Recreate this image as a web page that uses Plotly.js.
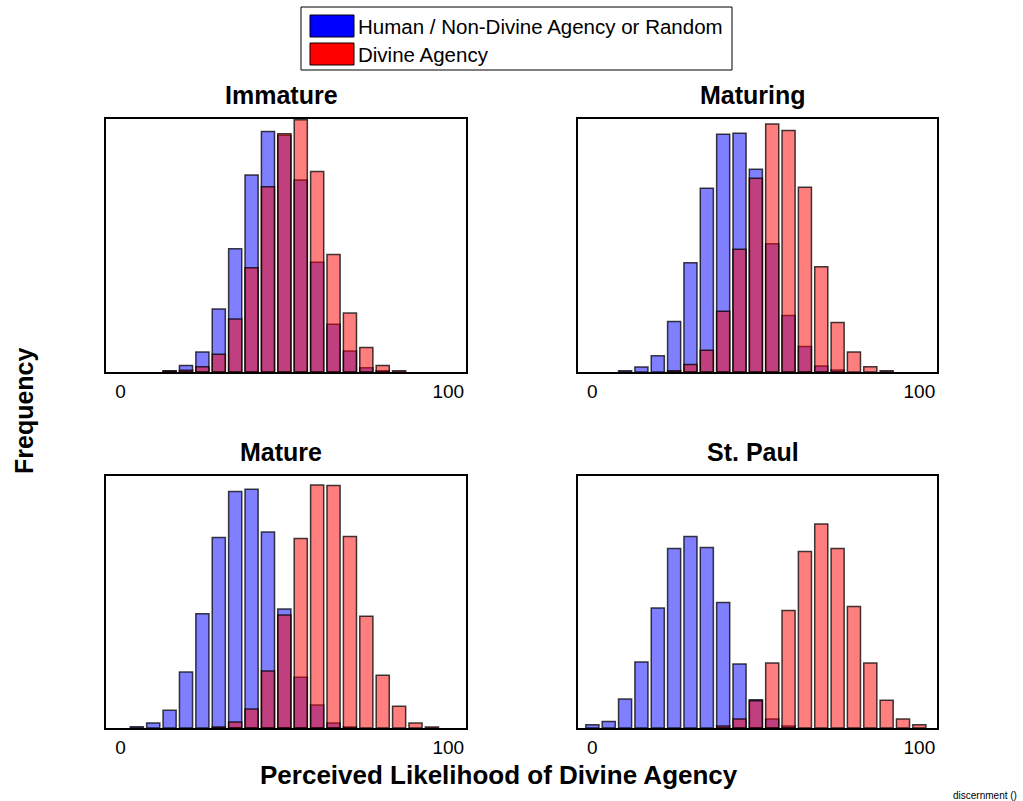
<!DOCTYPE html>
<html>
<head>
<meta charset="utf-8">
<script src="https://cdn.plot.ly/plotly-3.0.1.min.js"></script>
<style>html,body{margin:0;padding:0;background:#fff;}#chart{width:1023px;height:801px;}</style>
</head>
<body>
<div id="chart"></div>
<script>
// Bin centres (Perceived Likelihood of Divine Agency)
const bins = [0,5,10,15,20,25,30,35,40,45,50,55,60,65,70,75,80,85,90,95,100];

// Panel names
const panelTitles = ["Immature", "Maturing", "Mature", "St. Paul"];
const seriesNames = ["Human / Non-Divine Agency or Random", "Divine Agency"];

// Frequencies (relative); null = empty bin
const immatureHuman  = [null,null,null,0.5,2.6,7.9,24.9,48.7,77.9,95.1,93.6,75.9,43.4,18.9,8.3,1.7,0.5,null,null,null,null];
const immatureDivine = [null,null,null,0.3,0.7,2.1,7.0,20.9,41.2,73.2,94.2,99.7,79.2,46.4,23.3,9.7,2.6,0.5,null,null,null];

const maturingHuman  = [null,null,0.5,2.0,6.4,20.0,43.2,72.6,94.0,94.4,80.1,50.7,22.3,10.1,2.4,0.8,null,null,null,null,null];
const maturingDivine = [null,null,null,null,null,0.5,3.0,8.6,24.0,48.5,76.6,98.0,95.5,73.0,41.6,19.6,7.9,2.1,0.5,null,null];

const matureHuman    = [null,0.5,2.0,7.0,22.2,45.3,75.6,93.8,94.7,77.8,47.2,20.1,9.1,2.0,0.4,null,null,null,null,null,null];
const matureDivine   = [null,null,null,null,null,null,0.4,2.4,7.5,22.6,44.8,75.2,96.4,96.2,76.0,44.3,20.9,8.6,2.0,0.4,null];

const paulHuman      = [1.3,2.6,11.5,26.2,47.6,71.2,76.0,71.6,49.8,25.4,11.2,3.6,0.8,null,null,null,null,null,null,null,null];
const paulDivine     = [null,null,null,null,null,null,null,null,0.8,3.6,10.8,25.8,46.6,70.0,81.0,71.2,48.2,25.8,11.0,3.6,1.3];

const tickVals = [0, 100];
const tickText = ["0", "100"];

const panels = [
  {h: immatureHuman, d: immatureDivine},
  {h: maturingHuman, d: maturingDivine},
  {h: matureHuman, d: matureDivine},
  {h: paulHuman, d: paulDivine}
];

const W = 1023, H = 801;
const px = v => v / W;
const py = v => 1 - v / H;

const boxes = [
  {x: [106, 466], y: [119, 372]},
  {x: [578, 937], y: [119, 372]},
  {x: [106, 466], y: [476, 728]},
  {x: [578, 937], y: [476, 728]}
];

const traces = [];
const layout = {
  width: W, height: H,
  margin: {l: 0, r: 0, t: 0, b: 0},
  paper_bgcolor: "#fff", plot_bgcolor: "#fff",
  barmode: "overlay", bargap: 0.2,
  showlegend: false,
  font: {family: "Liberation Sans, Arial, sans-serif", color: "#000"},
  annotations: [], shapes: []
};

panels.forEach((p, i) => {
  const n = i + 1;
  const xa = "x" + (n === 1 ? "" : n), ya = "y" + (n === 1 ? "" : n);
  traces.push({
    type: "bar", x: bins, y: p.h, xaxis: xa, yaxis: ya, name: seriesNames[0],
    marker: {color: "rgba(0,0,255,0.5)", line: {color: "rgba(0,0,0,0.75)", width: 1.5}}
  });
  traces.push({
    type: "bar", x: bins, y: p.d, xaxis: xa, yaxis: ya, name: seriesNames[1],
    marker: {color: "rgba(255,0,0,0.5)", line: {color: "rgba(0,0,0,0.75)", width: 1.5}}
  });
  const b = boxes[i];
  layout["xaxis" + (n === 1 ? "" : n)] = {
    domain: [px(b.x[0]), px(b.x[1])], anchor: ya,
    range: [-4.4, 105.4], showgrid: false, zeroline: false,
    showline: true, mirror: true, linecolor: "#000", linewidth: 2,
    tickvals: tickVals, ticktext: tickText, ticks: "", ticklabelstandoff: 1,
    tickfont: {size: 19, color: "#000"}, fixedrange: true
  };
  layout["yaxis" + (n === 1 ? "" : n)] = {
    domain: [py(b.y[1]), py(b.y[0])], anchor: xa,
    range: [0, 100], showgrid: false, zeroline: false,
    showline: true, mirror: true, linecolor: "#000", linewidth: 2,
    showticklabels: false, ticks: "", fixedrange: true
  };
  const tx = (b.x[0] + b.x[1]) / 2 - 5;
  const ty = b.y[0] - 24;
  layout.annotations.push({
    xref: "paper", yref: "paper", x: px(tx), y: py(ty), xanchor: "center", yanchor: "middle",
    text: "<b>" + panelTitles[i] + "</b>", showarrow: false, font: {size: 25, color: "#000"}
  });
});

// Axis titles
layout.annotations.push({
  xref: "paper", yref: "paper", x: px(499), y: py(775), xanchor: "center", yanchor: "middle",
  text: "<b>Perceived Likelihood of Divine Agency</b>", showarrow: false, font: {size: 26, color: "#000"}
});
layout.annotations.push({
  xref: "paper", yref: "paper", x: px(24), y: py(411), xanchor: "center", yanchor: "middle",
  text: "<b>Frequency</b>", textangle: -90, showarrow: false, font: {size: 25, color: "#000"}
});
layout.annotations.push({
  xref: "paper", yref: "paper", x: px(1019), y: py(795), xanchor: "right", yanchor: "middle",
  text: "discernment ()", showarrow: false, font: {size: 10, color: "#000"}
});

// Legend (drawn as shapes + text)
layout.shapes.push({type: "rect", xref: "paper", yref: "paper", x0: px(301), x1: px(732), y0: py(70), y1: py(7),
  line: {color: "#000", width: 1}, fillcolor: "#fff", layer: "below"});
layout.shapes.push({type: "rect", xref: "paper", yref: "paper", x0: px(310), x1: px(354), y0: py(37), y1: py(15),
  line: {color: "#000", width: 1}, fillcolor: "#0000ff"});
layout.shapes.push({type: "rect", xref: "paper", yref: "paper", x0: px(310), x1: px(354), y0: py(65), y1: py(43),
  line: {color: "#000", width: 1}, fillcolor: "#ff0000"});
layout.annotations.push({
  xref: "paper", yref: "paper", x: px(356), y: py(27), xanchor: "left", yanchor: "middle",
  text: seriesNames[0], showarrow: false, font: {size: 20.5, color: "#000"}
});
layout.annotations.push({
  xref: "paper", yref: "paper", x: px(356), y: py(55), xanchor: "left", yanchor: "middle",
  text: seriesNames[1], showarrow: false, font: {size: 20.5, color: "#000"}
});

Plotly.newPlot("chart", traces, layout, {displayModeBar: false, staticPlot: true});
</script>
</body>
</html>
